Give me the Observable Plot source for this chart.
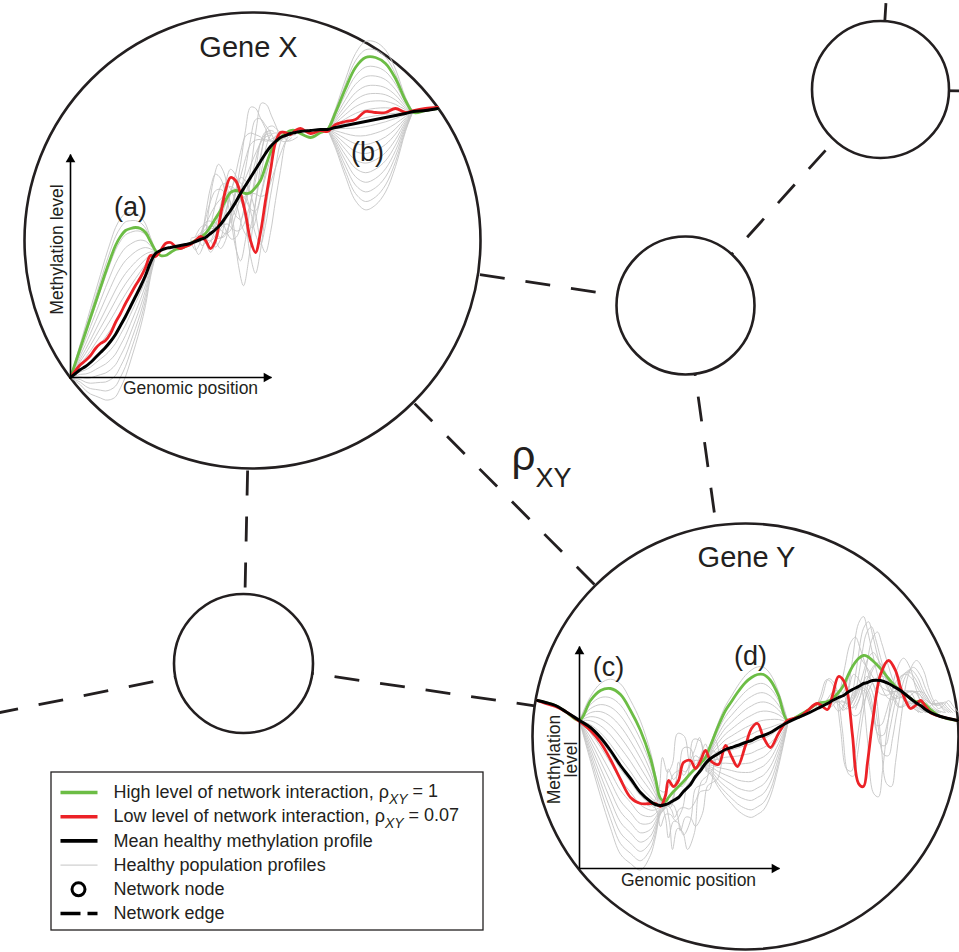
<!DOCTYPE html>
<html><head><meta charset="utf-8">
<script src="https://cdn.jsdelivr.net/npm/d3@7"></script>
<script src="https://cdn.jsdelivr.net/npm/@observablehq/plot@0.6"></script>
<style>
html,body{margin:0;padding:0;background:#fff;overflow:hidden;}
#chart svg{display:block;overflow:hidden;}
</style></head><body><div id="chart"></div>
<script>
// ---------- network (diagram coordinates, px) ----------
const nodeName = ["Gene X", "Gene Y", "hub", "topRight", "bottomLeft", "offLeft", "offTop", "offRight"];
const nodeX = [252, 745, 685, 880, 243, -100, 897, 1100];
const nodeY = [240, 736, 305, 89, 663, 732, -181, 93];
const nodeR = [228, 213, 69, 68.5, 69.5, 0, 0, 0];
const edgeFrom = [0, 0, 0, 2, 2, 4, 4, 6, 7];
const edgeTo   = [4, 2, 1, 1, 3, 1, 5, 3, 3];

// ---------- Gene X profiles ----------
const gxPos = [70,75,80,85,90,95,100,105,110,115,120,125,130,135,140,145,150,155,160,165,170,175,180,185,190,195,200,205,210,215,220,225,230,235,240,245,250,255,260,265,270,275,280,285,290,295,300,310,320,327,335,345,355,365,375,385,395,405,413,425,437];
const gxMean = [377,373,369,366,362,357,352,347,341,334,325,316,306,296,286,275,262,253,250,248,247,246,245,244,243,241,239,237,233,229,224,217,210,202,193,185,177,169,161,153,146,141,137,135,133,132,131,130,129,129,127,125,123,121,119,117,115,113,111,110,108];
const gxHigh = [377,362,347,332,317,302,287,272,258,245,236,230,228,227,228,232,241,250,255,255,252,249,248,246,243,240,237,233,226,218,210,200,192,190,191,193,192,187,180,166,152,142,137,133,130,130,133,137,132,129,112,88,67,57,57,63,78,100,112,110,108];
const gxLow  = [377,370,364,360,355,348,343,340,333,322,313,303,294,285,277,267,255,256,250,243,242,246,248,246,244,240,236,240,248,240,215,190,177,180,193,213,240,252,232,200,170,142,132,132,134,130,128,133,130,131,124,121,119,111,112,112,108,112,110,108,107];
// healthy population spread (relative to the high-interaction deviation / low-interaction deviation)
const gxSpreadA = [1.2,1.1,0.95,0.8,0.65,0.5,0.38,0.26,0.14,0.02,-0.1,-0.22,-0.34,-0.46,-0.58,-0.7];
const gxSpreadB = [1.25,1.12,0.85,0.7,0.55,0.42,0.3,0.18,0.06,-0.08,-0.22,-0.36,-0.5,-0.65,-0.8,-0.95,-1.1,-1.25,-1.38];
const gxNoiseAmp   = [0.5,0.8,1.1,1.4,-0.6,-0.8,-0.75,0.6,1.0,-0.4,0.3,-0.3,0.9,1.25,-0.5,0.7,0.2];
const gxNoiseShift = [0,-8,-15,-12,0,6,-5,-15,10,-10,10,-5,5,0,12,-3,-14];

// ---------- Gene Y profiles ----------
const gyPos  = [537,545,555,565,579,590,600,610,620,630,640,650,655,660,665,668,673,678,683,690,695,700,705,710,718,725,731,737,745,751,757,763,770,778,787,800,807,817,827,832,838,843,847,852,858,863,867,872,880,888,895,900,905,910,915,920,925,930,940,957];
const gyMean = [700,702,705,711,720,727,737,750,765,778,792,801,804,805,804,803,800,797,791,784,776,770,763,758,753,749,747,745,742,740,737,735,732,727,722,716,713,708,703,700,697,695,692,689,686,683,682,680,680,683,687,690,694,698,702,705,709,712,716,720];
const gyHigh = [700,702,705,711,720,700,690,688,694,710,730,758,778,798,801,797,791,786,781,773,768,763,757,745,725,710,701,692,682,677,674,674,680,695,720,714,710,703,701,698,692,685,676,666,658,655,656,660,668,678,686,690,694,698,701,701,704,709,716,720];
const gyLow  = [700,703,706,711,721,730,742,759,779,797,803,803,803,806,795,780,786,780,762,760,768,760,750,760,764,745,756,766,745,728,723,737,747,733,720,716,710,703,709,695,676,680,692,735,783,786,762,722,674,660,670,687,700,708,705,700,706,712,716,720];
const gySpreadC = [1.15,1.0,0.85,0.7,0.55,0.4,0.25,0.1,-0.05,-0.2,-0.35,-0.5,-0.65,-0.8,-0.95,-1.1,-1.25];
const gySpreadD = [1.12,1.0,0.85,0.7,0.55,0.4,0.25,0.1,-0.05,-0.2,-0.35,-0.5,-0.65,-0.8,-0.95,-1.1,-1.22];
const gyNoise1Amp   = [1.5,-1.5,2.0,-2.0,1.0,-1.0,1.8,-1.2,0.6,-0.6];
const gyNoise1Shift = [0,0,-6,4,8,-8,10,12,-10,6];
const gyNoise2Amp   = [-0.65,-0.55,-0.45,-0.3,0.3,0.5,0.7,0.9,1.1,-0.6,0.6,-0.5,0.85,0.4,-0.25,1.0];
const gyNoise2Shift = [0,8,-8,10,-5,20,25,-10,15,5,22,14,-12,18,-4,28];

// ---------- text ----------
const labelText = ["Gene X", "Gene Y", "(a)", "(b)", "(c)", "(d)"];
const labelX = [248, 746, 130, 367, 608, 750];
const labelY = [47, 557, 207, 152, 667, 656];
const labelSize = [29, 29, 27, 27, 27, 27];

const legendLabels = ["High level of network interaction, ρ{XY} = 1", "Low level of network interaction, ρ{XY} = 0.07", "Mean healthy methylation profile", "Healthy population profiles", "Network node", "Network edge"];
const legendKind = ["high", "low", "mean", "pop", "node", "edge"];

// ---------- styles ----------
const GREEN = "#6cbd45", RED = "#ec2227", BLACK = "#000000", GRAY = "#c4c4c4", INK = "#231f20";

// ---------- build tables ----------
const nodes = nodeName.map((n, i) => ({name: n, x: nodeX[i], y: nodeY[i], r: nodeR[i]}));
const edges = edgeFrom.map((f, i) => ({x1: nodeX[f], y1: nodeY[f], x2: nodeX[edgeTo[i]], y2: nodeY[edgeTo[i]]}));

function profile(gene, xs, ys) { return xs.map((x, i) => ({gene, x, y: ys[i]})); }
function bundle(gene, xs, base, tmpl, lo, hi, amps, shifts) {
  const rows = [];
  amps.forEach((f, k) => {
    const dx = shifts ? shifts[k] : 0;
    xs.forEach((x, i) => {
      if (x >= lo && x <= hi) rows.push({x: x + dx, y: base[i] + f * (tmpl[i] - base[i]), id: gene + lo + "-" + k});
    });
  });
  return rows;
}
const grayRows = [].concat(
  bundle("X", gxPos, gxMean, gxHigh, 70, 155, gxSpreadA),
  bundle("X", gxPos, gxMean, gxHigh, 327, 413, gxSpreadB),
  bundle("X", gxPos, gxMean, gxLow, 205, 285, gxNoiseAmp, gxNoiseShift),
  bundle("Y", gyPos, gyMean, gyHigh, 579, 665, gySpreadC),
  bundle("Y", gyPos, gyMean, gyHigh, 705, 787, gySpreadD),
  bundle("Y", gyPos, gyMean, gyLow, 655, 710, gyNoise1Amp, gyNoise1Shift),
  bundle("Y", gyPos, gyMean, gyLow, 827, 930, gyNoise2Amp, gyNoise2Shift)
);
const highRows = profile("X", gxPos, gxHigh).concat(profile("Y", gyPos, gyHigh));
const lowRows  = profile("X", gxPos, gxLow).concat(profile("Y", gyPos, gyLow));
const meanRows = profile("X", gxPos, gxMean).concat(profile("Y", gyPos, gyMean));

// axes of the two gene panels
const axes = [
  {gene: "X", x0: 70, y0: 377, xTip: 271, yTip: 154},
  {gene: "Y", x0: 579, y0: 868, xTip: 779, yTip: 646}
];
const axisText = [
  {t: "Genomic position", x: 190, y: 388, r: 0},
  {t: "Methylation level", x: 57, y: 249, r: -90},
  {t: "Genomic position", x: 688, y: 880, r: 0},
  {t: "Methylation\nlevel", x: 563, y: 759, r: -90}
];

// legend layout
const LX = 51, LY = 772, LW = 432, LH = 158, rowY0 = 792, rowStep = 24.2;
const legendRows = legendLabels.map((t, i) => ({t, kind: legendKind[i], y: rowY0 + i * rowStep}));

const nodeMarks = nodes.filter(d => d.r > 0).map(d =>
  Plot.dot([d], {x: "x", y: "y", r: d.r, fill: "white", stroke: INK, strokeWidth: 2.6}));

const chart = Plot.plot({
  width: 959, height: 952, margin: 0,
  x: {domain: [0, 959], range: [0, 959], axis: null},
  y: {domain: [0, 952], range: [0, 952], axis: null},
  style: {background: "white", fontFamily: "'Liberation Sans', Arial, Helvetica, sans-serif", color: INK},
  marks: [
    Plot.link(edges, {x1: "x1", y1: "y1", x2: "x2", y2: "y2", stroke: INK, strokeWidth: 2.8, strokeDasharray: "25,21"}),
    Plot.rect([{x1: LX, x2: LX + LW, y1: LY, y2: LY + LH}], {x1: "x1", x2: "x2", y1: "y1", y2: "y2", fill: "white", stroke: INK, strokeWidth: 1.3}),
    ...nodeMarks,
    Plot.line(grayRows, {x: "x", y: "y", z: "id", stroke: GRAY, strokeWidth: 0.9, curve: "catmull-rom"}),
    Plot.line(highRows, {x: "x", y: "y", z: "gene", stroke: GREEN, strokeWidth: 2.8, curve: "catmull-rom"}),
    Plot.line(lowRows, {x: "x", y: "y", z: "gene", stroke: RED, strokeWidth: 2.8, curve: "catmull-rom"}),
    Plot.line(meanRows, {x: "x", y: "y", z: "gene", stroke: BLACK, strokeWidth: 3, curve: "catmull-rom"}),
    // panel axes
    Plot.link(axes, {x1: "x0", y1: "y0", x2: "xTip", y2: "y0", stroke: BLACK, strokeWidth: 1.6}),
    Plot.link(axes, {x1: "x0", y1: "y0", x2: "x0", y2: "yTip", stroke: BLACK, strokeWidth: 1.6}),
    Plot.dot(axes, {x: "x0", y: "yTip", symbol: "triangle", r: 3.6, fill: BLACK, dy: 5}),
    Plot.dot(axes, {x: "xTip", y: "y0", symbol: "triangle", r: 3.6, fill: BLACK, rotate: 90, dx: -5}),
    Plot.text(axisText.filter(d => d.r === 0), {x: "x", y: "y", text: "t", fontSize: 17.5, fill: INK}),
    Plot.text(axisText.filter(d => d.r !== 0), {x: "x", y: "y", text: "t", fontSize: 17.5, fill: INK, rotate: -90, lineHeight: 0.97}),
    // titles and region labels
    Plot.text(labelText.map((t, i) => ({t, x: labelX[i], y: labelY[i], s: labelSize[i]})),
      {x: "x", y: "y", text: "t", fontSize: d => d.s, fill: INK}),
    Plot.text([{t: "ρ", x: 511, y: 456}], {x: "x", y: "y", text: "t", fontSize: 42, textAnchor: "start", fill: INK}),
    Plot.text([{t: "XY", x: 535, y: 478}], {x: "x", y: "y", text: "t", fontSize: 27, textAnchor: "start", fill: INK}),
    // legend
    Plot.link(legendRows.filter(d => d.kind === "high"), {x1: 60, x2: 97, y1: "y", y2: "y", stroke: GREEN, strokeWidth: 3.6}),
    Plot.link(legendRows.filter(d => d.kind === "low"), {x1: 60, x2: 97, y1: "y", y2: "y", stroke: RED, strokeWidth: 3.6}),
    Plot.link(legendRows.filter(d => d.kind === "mean"), {x1: 60, x2: 97, y1: "y", y2: "y", stroke: BLACK, strokeWidth: 3.6}),
    Plot.link(legendRows.filter(d => d.kind === "pop"), {x1: 60, x2: 97, y1: "y", y2: "y", stroke: GRAY, strokeWidth: 1}),
    Plot.dot(legendRows.filter(d => d.kind === "node"), {x: 78, y: "y", r: 6.5, fill: "white", stroke: BLACK, strokeWidth: 3}),
    Plot.link(legendRows.filter(d => d.kind === "edge"), {x1: 60, x2: 97, y1: "y", y2: "y", stroke: BLACK, strokeWidth: 3.6, strokeDasharray: "20,7"}),
    Plot.text(legendRows, {x: 113, y: "y", text: "t", fontSize: 18, textAnchor: "start", fill: INK})
  ]
});
document.getElementById("chart").appendChild(chart);

// subscripts for ρ_XY in the legend
d3.select(chart).selectAll("text").each(function () {
  const s = this.textContent;
  if (s.indexOf("{XY}") < 0) return;
  const [a, b] = s.split("{XY}");
  const el = d3.select(this);
  el.text(null);
  el.append("tspan").text(a);
  el.append("tspan").attr("dy", "0.4em").attr("font-size", "14px").attr("font-style", "italic").text("XY");
  el.append("tspan").attr("dy", "-0.4em").text(b);
});
</script></body></html>
